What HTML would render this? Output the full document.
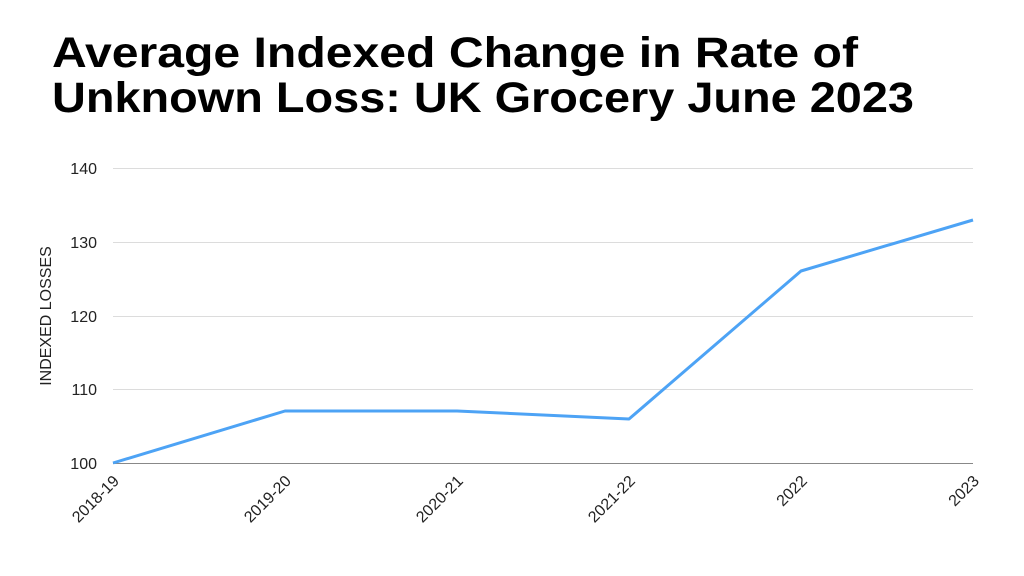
<!DOCTYPE html>
<html><head><style>body{margin:0;background:#fff}svg{display:block}</style></head><body>
<svg width="1024" height="576" xmlns="http://www.w3.org/2000/svg" font-family="Liberation Sans, sans-serif">
<rect width="1024" height="576" fill="#fff"/>
<text x="52" y="67" font-size="43" font-weight="bold" fill="#000" textLength="806" lengthAdjust="spacingAndGlyphs">Average Indexed Change in Rate of</text>
<text x="52" y="112" font-size="43" font-weight="bold" fill="#000" textLength="862" lengthAdjust="spacingAndGlyphs">Unknown Loss: UK Grocery June 2023</text>
<g stroke="#dcdcdc" stroke-width="1">
<line x1="113" y1="168.5" x2="973" y2="168.5"/>
<line x1="113" y1="242.5" x2="973" y2="242.5"/>
<line x1="113" y1="316.5" x2="973" y2="316.5"/>
<line x1="113" y1="389.5" x2="973" y2="389.5"/>
</g>
<line x1="113" y1="463.5" x2="973" y2="463.5" stroke="#888" stroke-width="1"/>
<g font-size="16" fill="#222" text-anchor="end">
<text x="97" y="174">140</text>
<text x="97" y="248">130</text>
<text x="97" y="322">120</text>
<text x="97" y="395">110</text>
<text x="97" y="469">100</text>
</g>
<text transform="translate(51,316) rotate(-90)" font-size="16" fill="#222" text-anchor="middle">INDEXED LOSSES</text>
<g font-size="16" fill="#222" text-anchor="end">
<text transform="translate(120,482) rotate(-45)">2018-19</text>
<text transform="translate(292,482) rotate(-45)">2019-20</text>
<text transform="translate(464,482) rotate(-45)">2020-21</text>
<text transform="translate(636,482) rotate(-45)">2021-22</text>
<text transform="translate(808,482) rotate(-45)">2022</text>
<text transform="translate(980,482) rotate(-45)">2023</text>
</g>
<polyline points="113,463 285,411 457,411 629,419 801,271 973,220" fill="none" stroke="#4da3f5" stroke-width="3" stroke-linejoin="round"/>
</svg>
</body></html>
